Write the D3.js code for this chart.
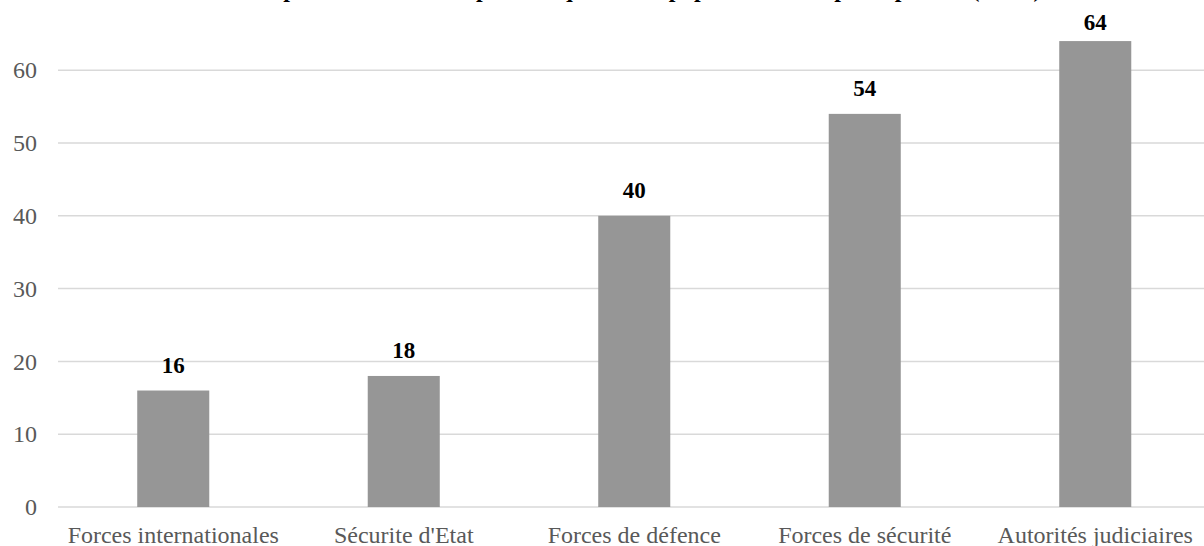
<!DOCTYPE html>
<html><head><meta charset="utf-8">
<script src="https://cdn.jsdelivr.net/npm/d3@7"></script>
<style>body{margin:0;background:#fff}svg{display:block}</style>
</head><body>
<svg id="c" width="1204" height="546"></svg>
<script>
const title = "Principales structures auprès desquelles les populations ont porté plainte (en %)";
const categories = ["Forces internationales", "Sécurite d'Etat", "Forces de défence", "Forces de sécurité", "Autorités judiciaires"];
const values = [16, 18, 40, 54, 64];
const yTicks = [0, 10, 20, 30, 40, 50, 60];

const svg = d3.select("#c");
const W = 1204, H = 546;
const left = 58, right = 1210.5, bottom = 507;
const x = d3.scaleBand().domain(categories).range([left, right]).paddingInner(0.6875).paddingOuter(0.34375);
const y = d3.scaleLinear().domain([0, 70]).range([bottom, bottom - 509.6]);

const font = "'Liberation Serif','Times New Roman',serif";

// gridlines
svg.append("g").selectAll("line").data(yTicks).join("line")
  .attr("x1", left).attr("x2", W)
  .attr("y1", d => y(d)).attr("y2", d => y(d))
  .attr("stroke", "#d9d9d9").attr("stroke-width", 1.5);

// y axis labels
const yAxis = d3.axisLeft(y).tickValues(yTicks).tickSize(0).tickPadding(0);
const ga = svg.append("g").attr("transform", "translate(37,0)").call(yAxis);
ga.select(".domain").remove();
ga.selectAll("text").attr("font-family", font).attr("font-size", 24).attr("fill", "#595959").attr("dy", "0.32em");

// bars
svg.append("g").selectAll("rect").data(values).join("rect")
  .attr("x", (d, i) => x(categories[i]))
  .attr("width", x.bandwidth())
  .attr("y", d => y(d))
  .attr("height", d => y(0) - y(d))
  .attr("fill", "#969696");

// value labels
svg.append("g").selectAll("text").data(values).join("text")
  .attr("x", (d, i) => x(categories[i]) + x.bandwidth() / 2)
  .attr("y", d => Math.max(y(d) - 17.5, 30))
  .attr("text-anchor", "middle")
  .attr("font-family", font).attr("font-size", 23).attr("font-weight", "bold").attr("fill", "#000")
  .text(d => d);

// x axis labels
const xAxis = d3.axisBottom(x).tickSize(0).tickPadding(0);
const gx = svg.append("g").attr("transform", "translate(0,543)").call(xAxis);
gx.select(".domain").remove();
gx.selectAll("text").attr("font-family", font).attr("font-size", 24).attr("fill", "#595959").attr("dy", 0);

// title (cut off at top, as in the reference)
svg.append("text").attr("x", 631).attr("y", -3.5).attr("text-anchor", "middle")
  .attr("font-family", font).attr("font-size", 24).attr("font-weight", "bold").attr("fill", "#000")
  .text(title);
</script>
</body></html>
